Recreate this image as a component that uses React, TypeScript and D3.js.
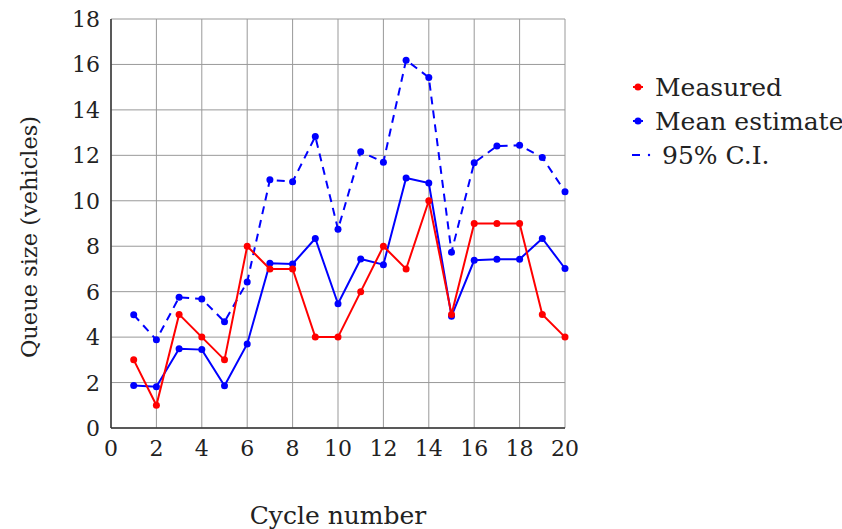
import { useRef, useEffect } from 'react';
import * as d3 from 'd3';

const cycles = d3.range(1, 21);
const measured = [3, 1, 5, 4, 3, 8, 7, 7, 4, 4, 6, 8, 7, 10, 5, 9, 9, 9, 5, 4];
const meanEstimate = [1.87, 1.82, 3.49, 3.45, 1.86, 3.7, 7.25, 7.22, 8.34, 5.47, 7.44, 7.19, 11.0, 10.78, 4.92, 7.38, 7.43, 7.43, 8.34, 7.02];
const ciUpper = [4.98, 3.88, 5.75, 5.68, 4.68, 6.43, 10.92, 10.84, 12.83, 8.75, 12.16, 11.7, 16.19, 15.43, 7.74, 11.67, 12.41, 12.44, 11.91, 10.4];
const xTicks = d3.range(0, 21, 2);
const yTicks = d3.range(0, 19, 2);

const FONT = '"DejaVu Serif", "Liberation Serif", serif';

export default function App() {
  const svgRef = useRef<SVGSVGElement>(null);

  useEffect(() => {
    if (!svgRef.current) return;
    const width = 842;
    const height = 529;
    const margin = { top: 19, right: 277, bottom: 101, left: 111 };

    const svg = d3.select(svgRef.current);
    svg.selectAll('*').remove();
    svg.attr('width', width).attr('height', height);

    const x = d3.scaleLinear().domain([0, 20]).range([margin.left, width - margin.right]);
    const y = d3.scaleLinear().domain([0, 18]).range([height - margin.bottom, margin.top]);

    // Grid
    const grid = svg.append('g').attr('stroke', '#999').attr('stroke-width', 1);
    grid.selectAll('line.v')
      .data(xTicks)
      .join('line')
      .attr('x1', d => x(d)).attr('x2', d => x(d))
      .attr('y1', y(0)).attr('y2', y(18));
    grid.selectAll('line.h')
      .data(yTicks)
      .join('line')
      .attr('class', 'h')
      .attr('x1', x(0)).attr('x2', x(20))
      .attr('y1', d => y(d)).attr('y2', d => y(d));

    // Axes lines
    svg.append('line')
      .attr('x1', x(0)).attr('x2', x(0)).attr('y1', y(0)).attr('y2', y(18))
      .attr('stroke', '#333').attr('stroke-width', 1.5);
    svg.append('line')
      .attr('x1', x(0)).attr('x2', x(20)).attr('y1', y(0)).attr('y2', y(0))
      .attr('stroke', '#333').attr('stroke-width', 1.5);

    // Tick labels
    svg.append('g')
      .selectAll('text')
      .data(xTicks)
      .join('text')
      .attr('x', d => x(d))
      .attr('y', y(0) + 28)
      .attr('text-anchor', 'middle')
      .attr('font-family', FONT)
      .attr('font-size', 22)
      .attr('fill', '#222')
      .text(d => d);
    svg.append('g')
      .selectAll('text')
      .data(yTicks)
      .join('text')
      .attr('x', x(0) - 11)
      .attr('y', d => y(d) + 8)
      .attr('text-anchor', 'end')
      .attr('font-family', FONT)
      .attr('font-size', 22)
      .attr('fill', '#222')
      .text(d => d);

    // Axis titles
    svg.append('text')
      .attr('x', (x(0) + x(20)) / 2)
      .attr('y', 524)
      .attr('text-anchor', 'middle')
      .attr('font-family', FONT)
      .attr('font-size', 25)
      .attr('fill', '#222')
      .text('Cycle number');
    svg.append('text')
      .attr('transform', `translate(37,237) rotate(-90)`)
      .attr('text-anchor', 'middle')
      .attr('font-family', FONT)
      .attr('font-size', 22.5)
      .attr('fill', '#222')
      .text('Queue size (vehicles)');

    const line = d3.line<number>().x((_, i) => x(cycles[i])).y(d => y(d));

    const series = [
      { values: ciUpper, color: '#00f', dash: '8,6' },
      { values: meanEstimate, color: '#00f', dash: null },
      { values: measured, color: '#f00', dash: null },
    ];

    series.forEach(s => {
      svg.append('path')
        .attr('d', line(s.values))
        .attr('fill', 'none')
        .attr('stroke', s.color)
        .attr('stroke-width', 2)
        .attr('stroke-dasharray', s.dash);
      svg.append('g')
        .selectAll('circle')
        .data(s.values)
        .join('circle')
        .attr('cx', (_, i) => x(cycles[i]))
        .attr('cy', d => y(d))
        .attr('r', 3.5)
        .attr('fill', s.color);
    });

    // Legend
    const legend = [
      { label: 'Measured', color: '#f00', dash: false },
      { label: 'Mean estimate', color: '#00f', dash: false },
      { label: '95% C.I.', color: '#00f', dash: true },
    ];
    const lg = svg.append('g').attr('transform', 'translate(632,87)');
    legend.forEach((l, i) => {
      const g = lg.append('g').attr('transform', `translate(0,${i * 34})`);
      if (l.dash) {
        g.append('line').attr('x1', 0).attr('x2', 8).attr('y1', 0).attr('y2', 0)
          .attr('stroke', l.color).attr('stroke-width', 2);
        g.append('circle').attr('cx', 17).attr('cy', 0).attr('r', 1.2).attr('fill', l.color);
      } else {
        g.append('line').attr('x1', 1).attr('x2', 11).attr('y1', 0).attr('y2', 0)
          .attr('stroke', l.color).attr('stroke-width', 2);
        g.append('circle').attr('cx', 6).attr('cy', 0).attr('r', 3.5).attr('fill', l.color);
      }
      g.append('text')
        .attr('x', l.dash ? 30 : 23)
        .attr('y', 9)
        .attr('font-family', FONT)
        .attr('font-size', 25)
        .attr('fill', '#222')
        .text(l.label);
    });
  }, []);

  return <svg ref={svgRef} style={{ position: 'absolute', left: 0, top: 0 }} />;
}
